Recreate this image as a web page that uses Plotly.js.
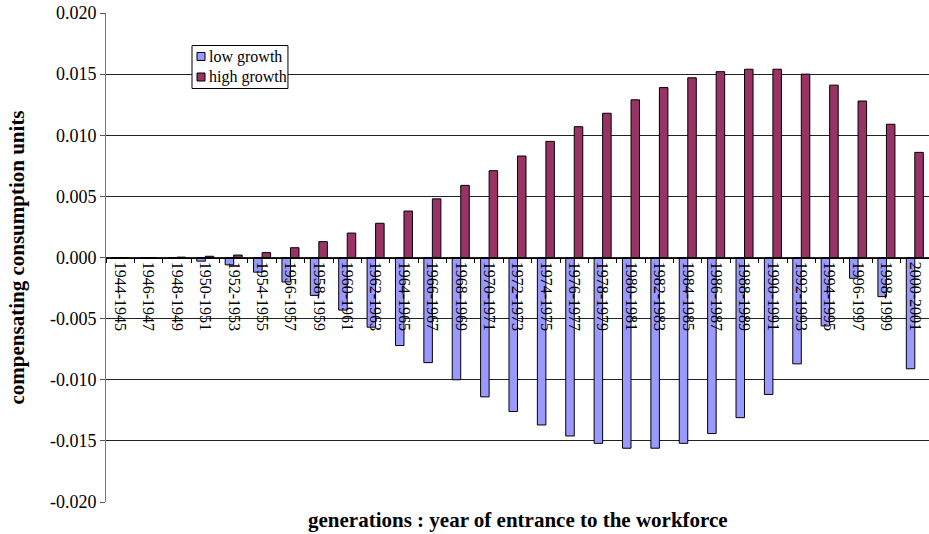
<!DOCTYPE html>
<html>
<head>
<meta charset="utf-8">
<script src="https://cdn.plot.ly/plotly-3.0.1.min.js"></script>
<style>html,body{margin:0;padding:0;background:#fff;}#chart{width:929px;height:534px;}</style>
</head>
<body>
<div id="chart"></div>
<script>
const categories = ["1944-1945","1946-1947","1948-1949","1950-1951","1952-1953","1954-1955","1956-1957","1958-1959","1960-1961","1962-1963","1964-1965","1966-1967","1968-1969","1970-1971","1972-1973","1974-1975","1976-1977","1978-1979","1980-1981","1982-1983","1984-1985","1986-1987","1988-1989","1990-1991","1992-1993","1994-1995","1996-1997","1998-1999","2000-2001"];
const lowGrowth = [0, 0, -0.00003, -0.0003, -0.0006, -0.0012, -0.0020, -0.0031, -0.0043, -0.0057, -0.0072, -0.0086, -0.0100, -0.0114, -0.0126, -0.0137, -0.0146, -0.0152, -0.0156, -0.0156, -0.0152, -0.0144, -0.0131, -0.0112, -0.0087, -0.0056, -0.0017, -0.0032, -0.0091];
const highGrowth = [0, 0, 0.00003, 0.0001, 0.0002, 0.0004, 0.0008, 0.0013, 0.0020, 0.0028, 0.0038, 0.0048, 0.0059, 0.0071, 0.0083, 0.0095, 0.0107, 0.0118, 0.0129, 0.0139, 0.0147, 0.0152, 0.0154, 0.0154, 0.0150, 0.0141, 0.0128, 0.0109, 0.0086];
const yTickVals = [0.020, 0.015, 0.010, 0.005, 0.000, -0.005, -0.010, -0.015, -0.020];
const yTickText = ["0.020","0.015","0.010","0.005","0.000","-0.005","-0.010","-0.015","-0.020"];
const seriesNames = ["low growth", "high growth"];
const seriesColors = ["#9999FF", "#993366"];
const xTitle = "generations : year of entrance to the workforce";
const yTitle = "compensating consumption units";

const serif = "'Liberation Serif', 'Times New Roman', Times, serif";
const traces = [
  {type:"bar", name:seriesNames[0], x:categories, y:lowGrowth,
   marker:{color:seriesColors[0], line:{color:"#000", width:1}}},
  {type:"bar", name:seriesNames[1], x:categories, y:highGrowth,
   marker:{color:seriesColors[1], line:{color:"#000", width:1}}}
];

// hand-drawn legend box (Excel style: small square swatches)
const legShapes = [
  {type:"rect", xref:"paper", yref:"paper", x0:0.1045, x1:0.2211, y0:0.8456, y1:0.9335,
   line:{color:"#000", width:1}, fillcolor:"#fff", layer:"above"},
  {type:"rect", xref:"paper", yref:"paper", x0:0.1106, x1:0.1203, y0:0.9029, y1:0.9192,
   line:{color:"#000", width:1}, fillcolor:seriesColors[0], layer:"above"},
  {type:"rect", xref:"paper", yref:"paper", x0:0.1106, x1:0.1203, y0:0.8609, y1:0.8773,
   line:{color:"#000", width:1}, fillcolor:seriesColors[1], layer:"above"}
];
const legAnn = [
  {text:seriesNames[0], xref:"paper", yref:"paper", x:0.1227, y:0.911, xanchor:"left", yanchor:"middle",
   showarrow:false, font:{family:serif, size:16, color:"#000"}},
  {text:seriesNames[1], xref:"paper", yref:"paper", x:0.1227, y:0.8691, xanchor:"left", yanchor:"middle",
   showarrow:false, font:{family:serif, size:16, color:"#000"}}
];

const layout = {
  width:929, height:534,
  margin:{l:106, r:0, t:13, b:32},
  paper_bgcolor:"#fff", plot_bgcolor:"#fff",
  font:{family:serif, color:"#000", size:15},
  barmode:"group", bargap:0.4, bargroupgap:0,
  showlegend:false,
  xaxis:{type:"category", anchor:"free", position:0.5, side:"bottom",
    showline:true, linecolor:"#000", linewidth:1, showgrid:false, zeroline:false,
    ticks:"outside", ticklen:4, tickcolor:"#000", tickson:"boundaries",
    tickangle:90, tickfont:{family:serif, size:16, color:"#000"}},
  yaxis:{range:[-0.020, 0.020], tickvals:yTickVals, ticktext:yTickText,
    showgrid:true, gridcolor:"#222", gridwidth:1, zeroline:false,
    showline:true, linecolor:"#777", linewidth:1,
    ticks:"outside", ticklen:5, tickcolor:"#555",
    tickfont:{family:serif, size:18, color:"#000"},
    title:{text:yTitle, font:{family:serif, size:21, color:"#000", weight:"bold"}, standoff:19}},
  shapes:legShapes,
  annotations:[
    {text:xTitle, xref:"paper", yref:"paper", x:0.5, y:-0.037, xanchor:"center", yanchor:"middle",
     showarrow:false, font:{family:serif, size:21, color:"#000", weight:"bold"}}
  ].concat(legAnn)
};
Plotly.newPlot("chart", traces, layout, {displayModeBar:false, staticPlot:true});
</script>
</body>
</html>
